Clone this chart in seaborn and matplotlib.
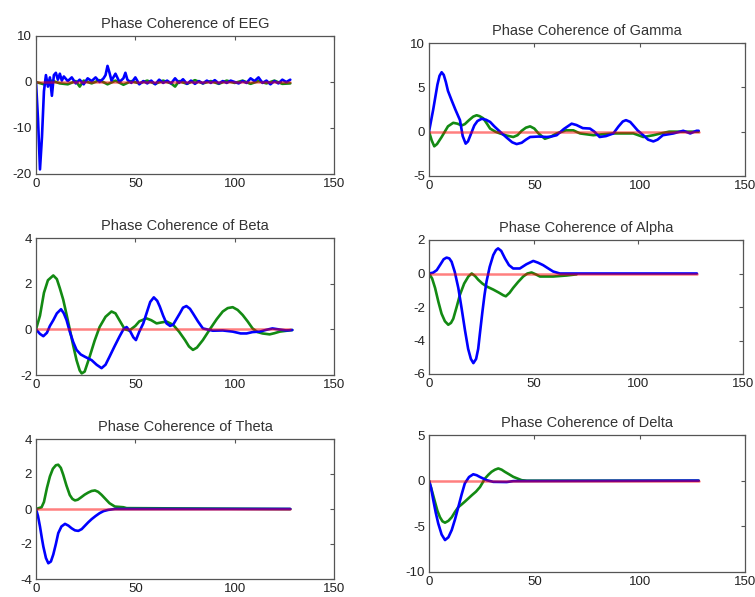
import matplotlib
matplotlib.use("Agg")
import matplotlib.pyplot as plt
import seaborn as sns

# ---------------- data ----------------
titles = ["Phase Coherence of EEG", "Phase Coherence of Gamma",
          "Phase Coherence of Beta", "Phase Coherence of Alpha",
          "Phase Coherence of Theta", "Phase Coherence of Delta"]

zero_x = [0, 128]
zero_y = [0, 0]

# EEG
eeg_blue_x = [0, 1, 2, 3, 4, 5, 6, 7, 8, 9, 10, 11, 12, 13, 14, 16, 18, 20, 22, 24, 26, 28, 30, 32, 34, 35,
              36, 37, 38, 40, 42, 44, 45, 46, 48, 50, 52, 54, 56, 58, 60, 62, 64, 66, 68, 70, 72, 74, 76, 78,
              80, 82, 84, 86, 88, 90, 92, 94, 96, 98, 100, 102, 104, 106, 108, 110, 112, 114, 116, 118,
              120, 122, 124, 126, 128]
eeg_blue_y = [0, -8, -19, -12, -2, 1.5, -1, 1, -3, 1.5, 2, 0.5, 1.8, 0.3, 1.2, 0.2, 1, -0.3, 0.5, -0.5, 0.8,
              0.2, 1, 0, 0.8, 1.5, 3.5, 2, 0.3, 1.8, 0, 0.8, 2, 0.5, -0.2, 1, -0.5, 0.2, -0.3, 0.3, -0.5,
              0.5, -0.2, 0.3, -0.3, 0.8, -0.2, 0.6, -0.4, 0.3, -0.4, 0.2, -0.3, 0.3, -0.2, 0.4, -0.3, 0.2,
              -0.2, 0.3, 0, -0.3, 0.2, -0.2, 0.8, 0.2, 1, -0.2, 0.3, -0.5, 0.2, -0.3, 0.5, 0, 0.5]
eeg_green_x = [0, 4, 8, 12, 16, 20, 22, 24, 28, 32, 36, 40, 44, 48, 52, 56, 60, 64, 68, 70, 72, 76, 80, 84,
               88, 92, 96, 100, 104, 108, 112, 116, 120, 124, 128]
eeg_green_y = [0, -0.5, 0.3, -0.3, -0.5, 0.2, -1.0, 0.3, -0.3, 0.4, -0.5, 0.3, -0.6, 0.2, -0.3, 0.3, -0.4,
               0.3, -0.3, -1.0, 0.2, -0.4, 0.4, -0.3, 0.2, -0.4, 0.3, -0.2, 0.3, -0.4, 0.2, -0.3, 0.3,
               -0.4, -0.3]

# Gamma
gamma_blue_x = [0, 2, 4, 5, 6, 7, 8, 9, 10.8, 12.5, 14.7, 16, 17.4, 18.5, 20, 21.5, 23, 25, 27, 29, 31,
                33.7, 37, 39.5, 41.6, 44, 46, 48, 52, 55.9, 58, 60.6, 64, 67.7, 70, 73, 76.4, 78.5, 81, 84,
                87.5, 90, 92, 93.5, 95.5, 97, 99, 101.7, 104, 106.5, 108.5, 111, 116, 120.7, 124, 127, 128]
gamma_blue_y = [0, 2.5, 5.3, 6.3, 6.7, 6.4, 5.6, 4.6, 3.5, 2.5, 1.3, -0.5, -1.35, -1.1, -0.2, 0.7, 1.2,
                1.45, 1.35, 1.1, 0.6, 0, -0.7, -1.2, -1.4, -1.25, -0.9, -0.6, -0.55, -0.6, -0.55, -0.4,
                0.3, 0.9, 0.75, 0.4, 0.35, 0, -0.6, -0.5, -0.2, 0.6, 1.15, 1.3, 1.1, 0.7, 0.15, -0.4,
                -0.9, -1.1, -0.9, -0.4, -0.2, 0.1, -0.2, 0.1, 0.1]
gamma_green_x = [0, 1.3, 2.5, 3.8, 6, 7.5, 9, 11.5, 13.5, 15.5, 17, 19, 21, 22.6, 24, 25.8, 27.5, 29, 31.5,
                 33.7, 37, 40, 42, 44, 46, 48, 50, 52, 55, 57.5, 60.6, 65, 68.5, 71.7, 78, 82, 87.5, 97,
                 101.7, 106.5, 110, 114, 128]
gamma_green_y = [0, -1.0, -1.65, -1.4, -0.6, 0, 0.6, 1.0, 0.9, 0.7, 0.85, 1.3, 1.7, 1.85, 1.75, 1.5, 0.9,
                 0.35, 0, -0.2, -0.45, -0.6, -0.4, 0.1, 0.45, 0.6, 0.35, -0.2, -0.8, -0.6, -0.2, 0.15,
                 0.15, -0.2, -0.4, -0.3, -0.2, -0.2, -0.6, -0.4, -0.2, 0, 0]

# Beta
beta_green_x = [0, 2, 4, 6, 8.7, 10.5, 12, 13.7, 15.5, 17, 18.7, 20.4, 22, 23, 24.5, 27, 29.5, 32, 35, 38,
                40, 42, 44.7, 47, 50, 52, 55.6, 58, 60.7, 63, 65.7, 69, 72, 75, 77, 79, 81, 84, 87.5, 91,
                94, 96.5, 99, 101.5, 104, 106.5, 109, 111.5, 114, 117.6, 120, 122.7, 129]
beta_green_y = [0, 0.6, 1.6, 2.15, 2.36, 2.2, 1.8, 1.3, 0.6, 0, -0.7, -1.35, -1.8, -1.93, -1.85, -1.2,
                -0.5, 0.1, 0.55, 0.78, 0.7, 0.4, 0, -0.05, 0.15, 0.35, 0.48, 0.4, 0.26, 0.3, 0.34, 0.2,
                -0.1, -0.47, -0.75, -0.9, -0.8, -0.47, 0, 0.45, 0.78, 0.93, 0.97, 0.85, 0.63, 0.35, 0.04,
                -0.12, -0.18, -0.22, -0.17, -0.1, -0.03]
beta_blue_x = [0, 2, 3.7, 5.5, 7, 8.7, 10.5, 12.6, 14, 15.4, 17, 18.7, 20.4, 22.5, 24.6, 28, 30.5, 33, 35,
               37, 39.5, 42, 44, 45.6, 47.5, 49, 50.3, 52, 54, 56, 57.5, 59.3, 61, 62.3, 64, 65.7, 67.5,
               69, 70.7, 72.4, 74, 75.7, 77.5, 79, 81.5, 84, 89, 94, 99, 103, 106, 109, 112.6, 116, 119,
               122, 126, 129]
beta_blue_y = [0, -0.2, -0.3, -0.15, 0.15, 0.4, 0.7, 0.88, 0.7, 0.4, -0.1, -0.55, -0.9, -1.1, -1.2, -1.35,
               -1.55, -1.7, -1.55, -1.2, -0.75, -0.32, 0, 0.1, -0.1, -0.35, -0.47, -0.1, 0.26, 0.8, 1.2,
               1.4, 1.25, 1.0, 0.6, 0.26, 0.15, 0.2, 0.45, 0.7, 0.95, 1.02, 0.9, 0.7, 0.35, 0.04, -0.06,
               -0.05, -0.1, -0.18, -0.18, -0.12, -0.1, -0.02, 0.04, 0, -0.05, -0.03]

# Alpha
alpha_blue_x = [0, 2, 3.7, 5.5, 7, 8.4, 9.7, 10.8, 12.3, 14, 15.6, 17.2, 18.7, 20, 21.2, 22.5, 23.5, 24.3,
                25.5, 26.5, 27.5, 29, 30.7, 32, 33, 34.5, 36.3, 38.2, 40.2, 43.4, 46.5, 49.8, 52, 54.5,
                57, 59.3, 62.5, 70.5, 128]
alpha_blue_y = [0, 0.05, 0.2, 0.55, 0.85, 0.95, 0.9, 0.7, 0.1, -0.86, -2.1, -3.4, -4.5, -5.1, -5.35, -5.1,
                -4.5, -3.6, -2.3, -1.3, -0.47, 0.4, 1.1, 1.4, 1.5, 1.35, 0.9, 0.5, 0.3, 0.3, 0.55, 0.75,
                0.65, 0.5, 0.3, 0.12, 0, 0, 0]
alpha_green_x = [0, 1.5, 2.9, 4.5, 6, 7.6, 9.2, 10.5, 11.6, 13.2, 14.8, 16.8, 18.8, 20.4, 22, 23.5, 25.5,
                 27.5, 30.7, 33.5, 35.5, 36.7, 38.5, 40.2, 42.6, 45, 47, 49, 51, 53, 59.3, 65.7, 70.5]
alpha_green_y = [0, -0.3, -0.86, -1.7, -2.4, -2.85, -3.06, -2.95, -2.7, -2.0, -1.26, -0.6, -0.18, 0,
                 -0.15, -0.37, -0.6, -0.77, -0.96, -1.15, -1.3, -1.36, -1.15, -0.86, -0.5, -0.18, 0,
                 0.06, -0.05, -0.18, -0.18, -0.12, -0.05]

# Theta
theta_green_x = [0, 2.8, 4, 5.5, 7, 8.5, 10, 11.2, 12.5, 13.7, 15.3, 17, 18.3, 19.6, 21, 22.5, 24.5, 26.3,
                 28, 29.7, 31.3, 33, 35, 37, 39.7, 44, 45.6, 128]
theta_green_y = [0, 0.1, 0.4, 1.2, 1.86, 2.3, 2.5, 2.53, 2.35, 1.96, 1.35, 0.8, 0.58, 0.49, 0.53, 0.65,
                 0.82, 0.94, 1.03, 1.06, 0.98, 0.81, 0.57, 0.33, 0.14, 0.1, 0.05, 0]
theta_blue_x = [0, 1, 2, 3, 3.7, 5, 6.2, 7.5, 8.7, 10, 11.2, 12.8, 14.6, 16.3, 17.9, 19.6, 21.3, 23, 24.6,
                26.3, 28, 30, 32, 34, 36.4, 39.7, 128]
theta_blue_y = [0, -0.4, -1.0, -1.7, -2.15, -2.8, -3.1, -3.0, -2.6, -2.0, -1.38, -1.0, -0.85, -0.95, -1.1,
                -1.22, -1.25, -1.15, -0.96, -0.76, -0.58, -0.4, -0.24, -0.12, -0.05, 0, 0]

# Delta
delta_blue_x = [0, 1, 2, 3.2, 4.4, 6, 7.6, 9.2, 10.8, 12.4, 13.9, 15.5, 17, 19, 21, 22.6, 24.2, 27.4,
                30.5, 36.9, 40, 128]
delta_blue_y = [0, -0.8, -2.1, -3.5, -4.7, -5.9, -6.5, -6.2, -5.4, -4.2, -2.9, -1.5, -0.3, 0.4, 0.7, 0.6,
                0.4, 0.05, -0.13, -0.15, -0.05, 0]
delta_green_x = [0, 1.5, 2.8, 4, 5.2, 6.4, 7.6, 9.2, 10.8, 12.4, 13.9, 15.5, 17, 20.3, 22.3, 24.2, 26.6,
                 28.2, 29.7, 31.3, 32.9, 34.5, 36, 38, 40, 44, 46.4, 128]
delta_green_y = [0, -1.2, -2.3, -3.3, -4.0, -4.45, -4.6, -4.4, -4.0, -3.4, -2.9, -2.6, -2.3, -1.6, -1.2,
                 -0.7, 0.24, 0.65, 0.97, 1.2, 1.34, 1.2, 0.97, 0.7, 0.42, 0.05, 0, 0]

x_ticks = [0, 50, 100, 150]
y_ticks = [[-20, -10, 0, 10], [-5, 0, 5, 10], [-2, 0, 2, 4],
           [-6, -4, -2, 0, 2], [-4, -2, 0, 2, 4], [-10, -5, 0, 5]]

series = [
    (eeg_green_x, eeg_green_y, eeg_blue_x, eeg_blue_y),
    (gamma_green_x, gamma_green_y, gamma_blue_x, gamma_blue_y),
    (beta_green_x, beta_green_y, beta_blue_x, beta_blue_y),
    (alpha_green_x, alpha_green_y, alpha_blue_x, alpha_blue_y),
    (theta_green_x, theta_green_y, theta_blue_x, theta_blue_y),
    (delta_green_x, delta_green_y, delta_blue_x, delta_blue_y),
]

# ---------------- layout ----------------
sns.set_theme(style="white")
plt.rcParams["font.family"] = ["Liberation Sans", "DejaVu Sans"]

W, H = 755, 597
fig = plt.figure(figsize=(W / 100, H / 100), dpi=100)
fig.patch.set_facecolor("white")

# pixel boxes: left, right, top, bottom
boxes = [(36, 334, 36, 174), (429, 745, 43, 176),
         (36, 334, 238, 375), (429, 743, 240, 374),
         (36, 334, 439, 579), (429, 745, 435, 572)]

for i, (l, r, t, b) in enumerate(boxes):
    ax = fig.add_axes([l / W, 1 - b / H, (r - l) / W, (b - t) / H])
    gx, gy, bx, by = series[i]
    sns.lineplot(x=gx, y=gy, ax=ax, color="#138a13", lw=1.9, estimator=None, sort=False)
    sns.lineplot(x=bx, y=by, ax=ax, color="#0000ff", lw=1.9, estimator=None, sort=False)
    sns.lineplot(x=zero_x, y=zero_y, ax=ax, color="#ff0000", lw=1.8, alpha=0.5,
                 estimator=None, sort=False)
    yt = y_ticks[i]
    ax.set_xlim(0, 150)
    ax.set_ylim(yt[0], yt[-1])
    ax.set_xticks(x_ticks)
    ax.set_yticks(yt)
    ax.set_xticklabels([str(v) for v in x_ticks])
    ax.set_yticklabels([str(v) for v in yt])
    ax.tick_params(direction="in", length=3, width=0.8, top=True, right=True,
                   labelsize=9.5, colors="#555555", labelcolor="#222222", pad=3)
    for sp in ax.spines.values():
        sp.set_color("#555555")
        sp.set_linewidth(0.9)
    ax.set_xlabel("")
    ax.set_ylabel("")
    ax.set_title(titles[i], fontsize=10.5, color="#333333", pad=6)
    ax.set_facecolor("white")

fig.savefig("out.png", dpi=100, facecolor="white")
